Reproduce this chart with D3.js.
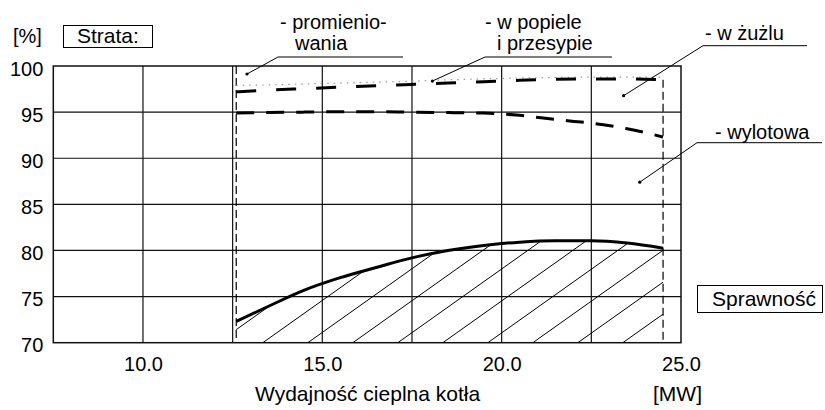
<!doctype html>
<html>
<head>
  <meta charset="utf-8">
  <style>
    body { margin: 0; background: #fff; }
    svg { display: block; font-family: "Liberation Sans", Arial, sans-serif; }
    .lbl { font-size: 20px; fill: #000; }
    .big { font-size: 21px; }
  </style>
  <script src="https://cdn.jsdelivr.net/npm/d3@7"></script>
</head>
<body>
<script>
// moc cieplna kotła [MW]
var moc = [12.6, 13.5, 14.5, 15.5, 16.5, 17.5, 18.5, 19.5, 20.5, 21.5, 22.5, 23.5, 24.5];
// granice poszczególnych strat [%]
var gPromieniowanie = [97.9, 97.95, 98.05, 98.15, 98.25, 98.35, 98.5, 98.6, 98.7, 98.75, 98.8, 98.8, 98.8];
var gPopiol = [97.2, 97.4, 97.55, 97.7, 97.85, 98.0, 98.15, 98.3, 98.45, 98.55, 98.6, 98.6, 98.5];
var gZuzel = [94.9, 94.95, 95.0, 95.05, 95.05, 95.0, 94.95, 94.9, 94.65, 94.2, 93.8, 93.2, 92.3];
var sprawnosc = [72.3, 73.95, 75.7, 77.05, 78.15, 79.2, 80.0, 80.55, 80.9, 81.05, 81.05, 80.8, 80.25];

var xTicks = [10, 15, 20, 25];
var xGrid = [10, 12.5, 15, 17.5, 20, 22.5];
var yTicks = [70, 75, 80, 85, 90, 95, 100];

var W = 825, H = 410;
var svg = d3.select("body").append("svg").attr("width", W).attr("height", H);

var x = d3.scaleLinear().domain([7.5, 25]).range([53.3, 681]);
var y = d3.scaleLinear().domain([70, 100]).range([342.7, 66]);

// siatka
svg.selectAll(".gx").data(xGrid).enter().append("line")
  .attr("x1", d => x(d)).attr("x2", d => x(d))
  .attr("y1", y(70)).attr("y2", y(100))
  .attr("stroke", "#111").attr("stroke-width", 1.2);
svg.selectAll(".gy").data(yTicks.slice(1, -1)).enter().append("line")
  .attr("x1", x(7.5)).attr("x2", x(25))
  .attr("y1", d => y(d)).attr("y2", d => y(d))
  .attr("stroke", "#111").attr("stroke-width", 1.2);

// kreskowanie pod krzywą sprawności
var pts = moc.map((m, i) => ({m: m, s: sprawnosc[i]}));
var area = d3.area().x(d => x(d.m)).y0(y(70)).y1(d => y(d.s)).curve(d3.curveMonotoneX);
svg.append("clipPath").attr("id", "clipS").append("path").attr("d", area(pts));

var step = 45, slope = 0.71;
var hatch = d3.range(-8, 12).map(k => 260 + k * step);
svg.append("g").attr("clip-path", "url(#clipS)")
  .selectAll("line").data(hatch).enter().append("line")
  .attr("x1", d => d).attr("y1", y(70) + 2)
  .attr("x2", d => d + 400).attr("y2", y(70) + 2 - 400 * slope)
  .attr("stroke", "#000").attr("stroke-width", 1);

// ramka
svg.append("rect")
  .attr("x", x(7.5)).attr("y", y(100))
  .attr("width", x(25) - x(7.5)).attr("height", y(70) - y(100))
  .attr("fill", "none").attr("stroke", "#111").attr("stroke-width", 1.5);

// granice zakresu pracy
svg.append("line")
  .attr("x1", x(moc[0])).attr("x2", x(moc[0]))
  .attr("y1", y(100)).attr("y2", y(70))
  .attr("stroke", "#000").attr("stroke-width", 1.2).attr("stroke-dasharray", "8,4");
svg.append("line")
  .attr("x1", x(moc[moc.length - 1])).attr("x2", x(moc[moc.length - 1]))
  .attr("y1", y(gPopiol[gPopiol.length - 1])).attr("y2", y(70))
  .attr("stroke", "#000").attr("stroke-width", 1.2).attr("stroke-dasharray", "8,4");

function linia(vals) {
  return d3.line().x((d, i) => x(moc[i])).y(d => y(d)).curve(d3.curveMonotoneX)(vals);
}

svg.append("path").attr("d", linia(gPromieniowanie))
  .attr("fill", "none").attr("stroke", "#999").attr("stroke-width", 1.2)
  .attr("stroke-dasharray", "1.5,5");
svg.append("path").attr("d", linia(gPopiol))
  .attr("fill", "none").attr("stroke", "#000").attr("stroke-width", 3)
  .attr("stroke-dasharray", "20,20");
svg.append("path").attr("d", linia(gZuzel))
  .attr("fill", "none").attr("stroke", "#000").attr("stroke-width", 3)
  .attr("stroke-dasharray", "18,12");
svg.append("path").attr("d", linia(sprawnosc))
  .attr("fill", "none").attr("stroke", "#000").attr("stroke-width", 3);

// osie
var ax = svg.append("g").attr("transform", "translate(0," + y(70) + ")")
  .call(d3.axisBottom(x).tickValues(xTicks).tickFormat(d3.format(".1f")).tickSize(0).tickPadding(14));
var ay = svg.append("g").attr("transform", "translate(" + x(7.5) + ",0)")
  .call(d3.axisLeft(y).tickValues(yTicks).tickSize(0).tickPadding(10));
[ax, ay].forEach(g => {
  g.select(".domain").remove();
  g.attr("font-size", null).attr("font-family", null);
  g.selectAll("text").attr("class", "lbl");
});
ay.selectAll("text").attr("dy", "0.45em");

function tekst(t, px, py, cls) {
  return svg.append("text").attr("class", "lbl " + (cls || "")).attr("x", px).attr("y", py).text(t);
}

tekst("[%]", 13, 43);
svg.append("rect").attr("x", 63.5).attr("y", 25.5).attr("width", 89).attr("height", 22)
  .attr("fill", "none").attr("stroke", "#000").attr("stroke-width", 1);
tekst("Strata:", 77, 43, "big");

svg.append("rect").attr("x", 697.5).attr("y", 285.5).attr("width", 125).attr("height", 27)
  .attr("fill", "none").attr("stroke", "#000").attr("stroke-width", 1);
tekst("Sprawność", 712, 306, "big");

tekst("Wydajność cieplna kotła", 255, 401, "big");
tekst("[MW]", 653, 401, "big");

// opisy stref strat z odnośnikami
var opisy = [
  {l: ["- promienio-", "wania"], tx: [280, 295], ty: [29, 50], u: [278, 403, 57], p: [12.9, 99.13]},
  {l: ["- w popiele", "i przesypie"], tx: [485, 497], ty: [29, 50], u: [485, 612, 57], p: [18.07, 98.37]},
  {l: ["- w żużlu"], tx: [705], ty: [40], u: [703, 807, 45.7], p: [23.4, 96.78]},
  {l: ["- wylotowa"], tx: [715], ty: [139], u: [697, 822, 142.7], p: [23.85, 87.4]}
];
opisy.forEach(o => {
  o.l.forEach((t, i) => tekst(t, o.tx[i], o.ty[i]));
  svg.append("polyline")
    .attr("points", [[o.u[1], o.u[2]], [o.u[0], o.u[2]], [x(o.p[0]), y(o.p[1])]].join(" "))
    .attr("fill", "none").attr("stroke", "#000").attr("stroke-width", 1);
  svg.append("circle").attr("cx", x(o.p[0])).attr("cy", y(o.p[1])).attr("r", 1.6).attr("fill", "#000");
});
</script>
</body>
</html>
